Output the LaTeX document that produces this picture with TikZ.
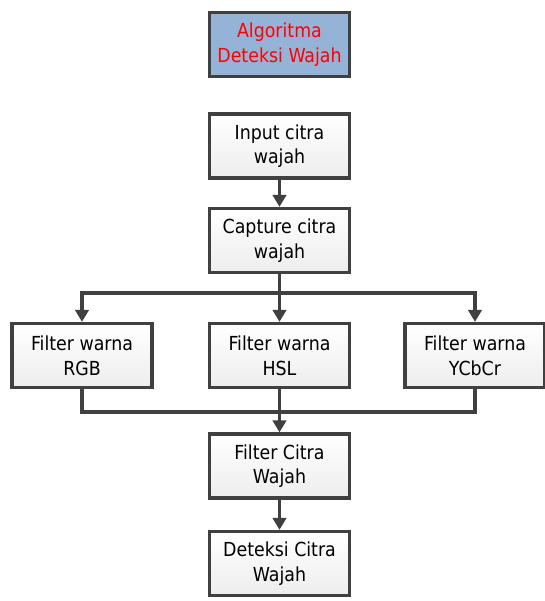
\documentclass[tikz,border=0pt]{standalone}
\usepackage{fontspec}
\setmainfont{DejaVu Sans Condensed}
\usetikzlibrary{positioning,arrows.meta,shadows}
\definecolor{cLine}{HTML}{404040}
\definecolor{cHead}{HTML}{95B3D7}
\definecolor{cRed}{HTML}{FF0000}

\tikzset{
  boxstep/.style={draw=cLine,line width=2.4pt,top color=white,bottom color=gray!14,
    minimum width=105pt,minimum height=48pt,inner sep=2pt,align=center,
    font=\fontsize{14.5}{18.5}\selectfont,
    drop shadow={shadow xshift=1.2pt,shadow yshift=-1.2pt,fill=gray!45,opacity=.6}},
  headstep/.style={boxstep,top color=cHead,bottom color=cHead,text=cRed},
  flow/.style={draw=cLine,line width=2.4pt,-{Triangle[length=9pt,width=10pt]}},
  link/.style={draw=cLine,line width=2.4pt}
}

\begin{document}
\begin{tikzpicture}[x=0.75pt,y=-0.75pt]
  \useasboundingbox (0,0) rectangle (545,601);
  % kepala
  \node[headstep] (judul) at (279.5,44.5) {Algoritma\\Deteksi Wajah};
  % alur utama
  \node[boxstep] (input) at (279.5,146) {Input citra\\wajah};
  \node[boxstep] (capture) at (279.5,240.5) {Capture citra\\wajah};
  \node[boxstep] (rgb) at (82,355.5) {Filter warna\\RGB};
  \node[boxstep] (hsl) at (279.5,355.5) {Filter warna\\HSL};
  \node[boxstep] (ycbcr) at (475,355.5) {Filter warna\\YCbCr};
  \node[boxstep] (filter) at (279.5,466) {Filter Citra\\Wajah};
  \node[boxstep] (deteksi) at (279.5,563.5) {Deteksi Citra\\Wajah};
  \coordinate (pecah) at (279.5,293);
  \coordinate (gabung) at (279.5,412);

  \draw[flow] (input) -- (capture);
  \draw[link] (capture) -- (pecah);
  \draw[flow] (pecah) -| (rgb);
  \draw[flow] (pecah) -- (hsl);
  \draw[flow] (pecah) -| (ycbcr);
  \draw[link] (rgb) |- (gabung);
  \draw[link] (ycbcr) |- (gabung);
  \draw[link] (hsl) -- (gabung);
  \draw[flow] (gabung) -- (filter);
  \draw[flow] (filter) -- (deteksi);
\end{tikzpicture}
\end{document}
